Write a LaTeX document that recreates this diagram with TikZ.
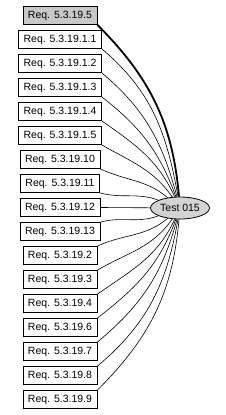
\documentclass[tikz,border=0pt]{standalone}
\usepackage{fontspec}
\setmainfont{Liberation Sans}
\usepackage{tikz}
\usetikzlibrary{shapes.geometric, arrows, positioning}
\definecolor{reqgray}{HTML}{C8C8C8}
\definecolor{testgray}{HTML}{D3D3D3}

\begin{document}
\begin{tikzpicture}[x=1pt, y=-1pt, font=\fontsize{10.5}{12}\selectfont,
    req/.style={draw, rectangle, line width=0.8pt, minimum height=18pt, inner xsep=5pt, inner ysep=1pt},
    link/.style={line width=0.6pt}]
        \useasboundingbox (0,0) rectangle (225,415);
        % requirement boxes
        \foreach \t [count=\i] in {5.3.19.5, 5.3.19.1.1, 5.3.19.1.2, 5.3.19.1.3, 5.3.19.1.4,
            5.3.19.1.5, 5.3.19.10, 5.3.19.11, 5.3.19.12, 5.3.19.13, 5.3.19.2, 5.3.19.3,
            5.3.19.4, 5.3.19.6, 5.3.19.7, 5.3.19.8, 5.3.19.9}
            \node[req] (r\i) at (60,{15.5+24*(\i-1)}) {Req. \t};
        \node[req, fill=reqgray] at (r1) {Req. 5.3.19.5};
        % test
        \node[draw, ellipse, line width=0.8pt, fill=testgray, minimum width=54pt, minimum height=22pt, inner sep=1pt] (T) at (180,208) {Test 015};
        \draw[line width=1.8pt] (r1.south east) to[out=-45, in=95] (T);
        \foreach \i/\o/\n in {2/-40/100, 3/-40/105, 4/-38/110, 5/-35/115, 6/-30/125, 7/-25/140, 8/-15/160}
            \draw[link] (r\i.south east) to[out=\o, in=\n] (T);
        \draw[link] (r9.east) -- (T);
        \foreach \i/\o/\n in {10/15/200, 11/25/220, 12/30/235, 13/35/245, 14/38/250, 15/40/255, 16/40/260, 17/45/265}
            \draw[link] (r\i.north east) to[out=\o, in=\n] (T);
    \end{tikzpicture}
\end{document}
